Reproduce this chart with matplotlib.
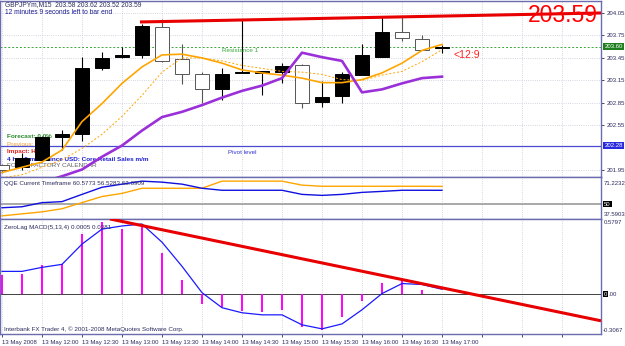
import matplotlib
matplotlib.use('Agg')
import matplotlib.pyplot as plt

W, H = 625, 346

# GBPJPYm M15, 13 May 2008, one bar per 15 minutes starting 11:30
opens = [202.02, 201.99, 202.09, 202.40, 202.43, 203.31, 203.46, 203.49, 203.86, 203.44, 203.23, 203.04,
         203.25, 203.25, 203.26, 203.35, 202.86, 202.94, 203.22, 203.46, 203.80, 203.70, 203.58]
highs = [202.03, 202.18, 202.41, 202.49, 203.46, 203.53, 203.60, 203.90, 203.97, 203.63, 203.26, 203.31,
         203.95, 203.27, 203.38, 203.37, 203.14, 203.26, 203.63, 204.01, 204.01, 203.76, 203.62]
lows = [201.92, 201.95, 202.06, 202.22, 202.34, 203.29, 203.45, 203.45, 203.40, 203.10, 202.85, 202.89,
        203.25, 202.95, 203.11, 202.78, 202.80, 202.85, 203.22, 203.46, 203.68, 203.56, 203.52]
closes = [201.96, 202.11, 202.39, 202.43, 203.31, 203.45, 203.49, 203.87, 203.41, 203.23, 203.03, 203.23,
          203.26, 203.27, 203.34, 202.85, 202.93, 203.23, 203.49, 203.79, 203.72, 203.56, 203.59]

# moving averages on the price pane
ma_fast = [201.92, 201.99, 202.06, 202.22, 202.60, 202.84, 203.11, 203.33, 203.49, 203.50, 203.45, 203.38,
           203.29, 203.25, 203.22, 203.18, 203.12, 203.12, 203.16, 203.25, 203.38, 203.55, 203.63]
ma_slow = [201.85, 201.89, 201.99, 202.09, 202.24, 202.43, 202.67, 202.95, 203.26, 203.45, 203.45, 203.41,
           203.35, 203.31, 203.27, 203.26, 203.23, 203.16, 203.15, 203.22, 203.27, 203.40, 203.56]
ma_purple = [201.65, 201.72, 201.79, 201.87, 201.96, 202.13, 202.28, 202.48, 202.66, 202.73, 202.82, 202.92,
             203.01, 203.08, 203.18, 203.52, 203.46, 203.41, 202.99, 203.03, 203.11, 203.18, 203.20]

# QQE sub window
qqe_blue = [46.6, 47.4, 50.7, 51.5, 57.3, 63.0, 65.5, 67.9, 67.1, 65.5, 62.2, 60.6,
            60.6, 60.6, 60.6, 57.3, 56.5, 57.3, 58.9, 59.7, 60.6, 60.6, 60.5773]
qqe_orange = [40.1, 41.7, 43.3, 45.8, 50.7, 55.6, 58.1, 62.2, 62.2, 62.2, 62.2, 67.9,
              67.9, 67.9, 67.9, 64.7, 63.8, 63.8, 63.8, 63.8, 63.8, 63.8, 63.6909]

# ZeroLag MACD(5,13,4) sub window
macd_hist = [0.145, 0.152, 0.222, 0.230, 0.463, 0.557, 0.502, 0.533, 0.316, 0.106, -0.073, -0.096,
             -0.128, -0.135, -0.120, -0.252, -0.275, -0.174, -0.050, 0.090, 0.098, 0.036, 0.0005]
macd_signal = [0.176, 0.176, 0.207, 0.230, 0.386, 0.502, 0.526, 0.541, 0.401, 0.215, 0.012, -0.104,
               -0.143, -0.159, -0.159, -0.236, -0.267, -0.229, -0.120, 0.005, 0.082, 0.075, 0.0381]

# trend lines (bar index, value)
trend_main_x, trend_main_y = [6.9, 29.95], [203.93, 204.05]
trend_macd_x, trend_macd_y = [5.4, 29.95], [0.58, -0.205]

price_ticks = [204.05, 203.75, 203.45, 203.15, 202.85, 202.55, 201.95]
resistance_1 = 203.60
pivot = 202.28
last_price = 203.59
qqe_range = (37.5903, 71.2232)
macd_range = (-0.3067, 0.5797)

time_labels = ['13 May 2008', '13 May 12:00', '13 May 12:30', '13 May 13:00', '13 May 13:30', '13 May 14:00',
               '13 May 14:30', '13 May 15:00', '13 May 15:30', '13 May 16:00', '13 May 16:30', '13 May 17:00']

plt.rcParams['font.family'] = ['Liberation Sans', 'DejaVu Sans']

FRAME = '#6b6bb0'
TXT = '#2b2b5e'
GRID = '#c8c8d6'
FS = 4.5


def px_rect(x0, y0, x1, y1):
    # pixel box with top-left origin -> figure fraction rect
    return [x0 / W, 1 - y1 / H, (x1 - x0) / W, (y1 - y0) / H]


def fxy(px, py):
    return px / W, 1 - py / H


fig = plt.figure(figsize=(W / 100, H / 100), dpi=100)
fig.patch.set_facecolor('white')

ax_main = fig.add_axes(px_rect(0, 1, 601, 177))
ax_qqe = fig.add_axes(px_rect(0, 177, 601, 219))
ax_macd = fig.add_axes(px_rect(0, 219, 601, 334))

bars = list(range(len(opens)))
grid_pos = list(range(0, 30, 2))
for ax in (ax_main, ax_qqe, ax_macd):
    ax.set_xlim(-0.1, 29.95)
    for s in ax.spines.values():
        s.set_color(FRAME)
        s.set_linewidth(1.0)
    ax.set_xticks(grid_pos)
    ax.grid(axis='x', ls=':', color=GRID, lw=0.6)
    ax.tick_params(axis='x', length=0, labelbottom=False)
    ax.set_axisbelow(True)

# ---- price pane
ax_main.set_ylim(201.86, 204.21)
ax_main.yaxis.tick_right()
ax_main.set_yticks(price_ticks)
ax_main.set_yticklabels([f'{p:.2f}' for p in price_ticks])
ax_main.tick_params(axis='y', length=2.5, width=0.6, color=TXT, labelsize=4.3, labelcolor=TXT, pad=1.5)
ax_main.grid(axis='y', ls=':', color=GRID, lw=0.6)

bull = [c >= o for o, c in zip(opens, closes)]
edge = ['black' if b else '#555555' for b in bull]
fill = ['black' if b else 'white' for b in bull]
body_low = [min(o, c) for o, c in zip(opens, closes)]
body_h = [max(abs(c - o), 0.012) for o, c in zip(opens, closes)]

# news calendar text sits under the candles
news = [('Forecast: 0.0%', '#2a8a2a', 'bold', 136), ('Previous: 0.2%', '#f0a030', 'normal', 144),
        ('Impact: High', '#e02020', 'bold', 152),
        ('4 hrs 9 mins since USD: Core Retail Sales m/m', '#2020d0', 'bold', 159),
        ('FOREX FACTORY CALENDAR', '#606060', 'normal', 166)]
for s, col, wt, py in news:
    ax_main.text(*fxy(7, py), s, transform=fig.transFigure, fontsize=4.6, color=col,
                 fontweight=wt, va='center', zorder=1)

ax_main.axhline(resistance_1, color='#3aa83a', ls=(0, (2, 2)), lw=0.7, zorder=2)
ax_main.axhline(pivot, color='#4a4ad0', lw=0.9, zorder=2)

ax_main.vlines(bars, lows, highs, colors=edge, lw=0.8, zorder=3)
ax_main.bar(bars, body_h, bottom=body_low, width=0.74, color=fill, edgecolor=edge, lw=0.7, zorder=4)

ax_main.plot(bars, ma_slow, color='#ffa500', lw=0.7, ls=(0, (2, 2)), zorder=5)
ax_main.plot(bars, ma_fast, color='#ffa500', lw=1.2, zorder=5)
ax_main.plot(bars, ma_purple, color='#9b30d9', lw=1.9, zorder=5)
ax_main.plot(trend_main_x, trend_main_y, color='#e80000', lw=2.2, solid_capstyle='butt', zorder=6)

ax_main.text(*fxy(222, 50), 'Resistance 1', transform=fig.transFigure, fontsize=FS, color='#3aa83a',
             va='center', zorder=7)
ax_main.text(*fxy(228, 152), 'Pivot level', transform=fig.transFigure, fontsize=FS, color='#3030d0',
             va='center', zorder=7)

yt = ax_main.get_yaxis_transform()
ax_main.text(1.006, resistance_1, f'{resistance_1:.2f}', transform=yt, fontsize=4.3, color='white',
             va='center', clip_on=False, bbox=dict(boxstyle='square,pad=0.2', fc='#1f7f1f', ec='none'))
ax_main.text(1.006, pivot, f'{pivot:.2f}', transform=yt, fontsize=4.3, color='white',
             va='center', clip_on=False, bbox=dict(boxstyle='square,pad=0.2', fc='#2a2ae0', ec='none'))

fig.text(*fxy(5, 5), 'GBPJPYm,M15  203.58 203.62 203.52 203.59', fontsize=4.8, color=TXT, va='center')
fig.text(*fxy(5, 13), '12 minutes 9 seconds left to bar end', fontsize=4.8, color='#1a1a90', va='center')
fig.text(*fxy(598, 16), f'{last_price:.2f}', fontsize=16.5, color='#ff0000', ha='right', va='center')
fig.text(*fxy(453, 55), '<12:9', fontsize=7.5, color='#ff2020', va='center')

# ---- QQE pane
ax_qqe.set_ylim(*qqe_range)
ax_qqe.set_yticks([])
ax_qqe.axhline(50, color='#a8a8a8', lw=1.4, zorder=2)
ax_qqe.plot(bars, qqe_orange, color='#ffa500', lw=1.0, zorder=3)
ax_qqe.plot(bars, qqe_blue, color='#1010e0', lw=1.0, zorder=4)
fig.text(*fxy(4, 184), 'QQE Current Timeframe 60.5773 56.5283 63.6909', fontsize=FS, color=TXT, va='center')
fig.text(*fxy(604, 184), f'{qqe_range[1]:.4f}', fontsize=4.3, color=TXT, va='center')
fig.text(*fxy(604, 214), f'{qqe_range[0]:.4f}', fontsize=4.3, color=TXT, va='center')
fig.text(*fxy(604, 204), '50', fontsize=4.3, color='white', va='center',
         bbox=dict(boxstyle='square,pad=0.15', fc='black', ec='none'))

# ---- MACD pane
ax_macd.set_ylim(*macd_range)
ax_macd.set_yticks([])
ax_macd.axhline(0, color='#404040', lw=0.7, zorder=2)
ax_macd.vlines(bars, 0, macd_hist, color='#ff00ff', lw=1.4, zorder=3)
ax_macd.plot(bars, macd_signal, color='#1a1aff', lw=0.9, zorder=4)
ax_macd.plot(trend_macd_x, trend_macd_y, color='#e80000', lw=2.2, solid_capstyle='butt', zorder=5)
fig.text(*fxy(4, 227), 'ZeroLag MACD(5,13,4) 0.0005 0.0381', fontsize=FS, color=TXT, va='center')
fig.text(*fxy(4, 329), 'Interbank FX Trader 4, \u00a9 2001-2008 MetaQuotes Software Corp.', fontsize=FS,
         color=TXT, va='center')
fig.text(*fxy(604, 223), f'{macd_range[1]:.4f}', fontsize=4.3, color=TXT, va='center')
fig.text(*fxy(603, 330), f'{macd_range[0]:.4f}', fontsize=4.3, color=TXT, va='center')
fig.text(*fxy(604, 294), '0', fontsize=4.3, color='white', va='center',
         bbox=dict(boxstyle='square,pad=0.15', fc='black', ec='none'))
fig.text(*fxy(608.5, 294), '.00', fontsize=4.3, color=TXT, va='center')

# time axis
ax_macd.set_xticklabels(time_labels + [''] * (len(grid_pos) - len(time_labels)))
ax_macd.tick_params(axis='x', length=2.5, width=0.6, color=TXT, labelbottom=True, labelsize=4.3,
                    labelcolor=TXT, pad=1.5)
for lab in ax_macd.get_xticklabels():
    lab.set_ha('left')

fig.savefig('out.png', dpi=100, facecolor='white')
